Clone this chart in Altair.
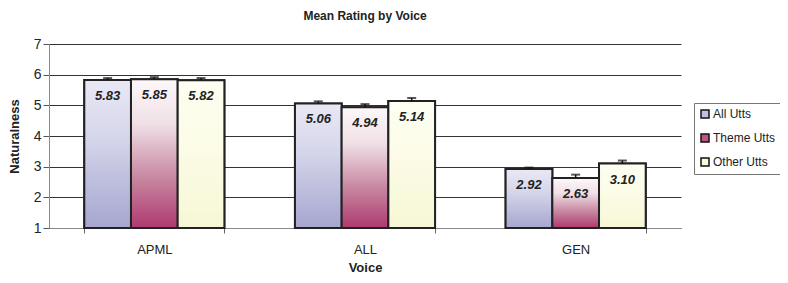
import altair as alt
import pandas as pd

voices = ["APML", "ALL", "GEN"]
series = ["All Utts", "Theme Utts", "Other Utts"]
means_all = [5.83, 5.06, 2.92]
means_theme = [5.85, 4.94, 2.63]
means_other = [5.82, 5.14, 3.10]
err_all = [0.06, 0.07, 0.05]
err_theme = [0.07, 0.10, 0.11]
err_other = [0.07, 0.10, 0.10]
y_ticks = [1, 2, 3, 4, 5, 6, 7]

rows = []
for s, ms, es in zip(series, [means_all, means_theme, means_other], [err_all, err_theme, err_other]):
    for v, m, e in zip(voices, ms, es):
        rows.append({"voice": v, "series": s, "mean": m, "upper": m + e})
df = pd.DataFrame(rows)

FONT = "Liberation Sans"
legend_colors = ["#c0c0e0", "#c05585", "#fafae0"]
gradients = {
    "All Utts": [("#e8e8f5", 0), ("#d8d8ec", 0.35), ("#a6a6d0", 1)],
    "Theme Utts": [("#fdf8fa", 0), ("#f0e0e6", 0.3), ("#c98aa3", 0.65), ("#ae3a6e", 1)],
    "Other Utts": [("#fefef2", 0), ("#fbfbe6", 0.5), ("#f7f7d6", 1)],
}

xscale = alt.Scale(paddingInner=0.335, paddingOuter=0.1675)
x_enc = alt.X("voice:N", sort=voices, scale=xscale,
              axis=alt.Axis(title="Voice", labelAngle=0, tickBand="extent",
                            labelFont=FONT, labelFontSize=13, labelColor="#222",
                            labelPadding=10, titleFont=FONT, titleFontSize=13,
                            titleFontWeight="bold", titleColor="#222", titlePadding=5,
                            domainColor="#888", tickColor="#666", tickSize=5))
xo_enc = alt.XOffset("series:N", sort=series, scale=alt.Scale(domain=series, paddingInner=0))
yscale = alt.Scale(domain=[1, 7], nice=False, zero=False)
y_axis = alt.Axis(title="Naturalness", values=y_ticks, tickCount=7, labelOverlap=False,
                  grid=True, gridColor="#333", gridWidth=1, domainColor="#888",
                  tickColor="#555", tickSize=6, labelFont=FONT, labelFontSize=14,
                  labelColor="#222", titleFont=FONT, titleFontSize=13,
                  titleFontWeight="bold", titleColor="#222", titlePadding=12)


def yenc(field):
    return alt.Y(field, scale=yscale, axis=y_axis)


base = alt.Chart(df).encode(x=x_enc, xOffset=xo_enc)

legend_layer = base.mark_bar(stroke="#222", strokeWidth=2).encode(
    y=yenc("mean:Q"),
    y2=alt.datum(1),
    fill=alt.Fill("series:N", sort=series,
                  scale=alt.Scale(domain=series, range=legend_colors),
                  legend=alt.Legend(title=None, orient="none", legendX=645, legendY=59,
                                    symbolType="square", symbolSize=64,
                                    symbolStrokeColor="#111", symbolStrokeWidth=1.5,
                                    labelFont=FONT, labelFontSize=12, labelColor="#222",
                                    rowPadding=10, padding=5, strokeColor="#777",
                                    fillColor="white", labelOffset=2)),
)

layers = [legend_layer]
for s in series:
    grad = alt.Gradient(gradient="linear",
                        stops=[alt.GradientStop(color=c, offset=o) for c, o in gradients[s]],
                        x1=0, x2=0, y1=0, y2=1)
    layers.append(
        base.transform_filter(alt.datum.series == s)
        .mark_bar(fill=grad, stroke="#222", strokeWidth=2)
        .encode(y=yenc("mean:Q"), y2=alt.datum(1))
    )

err = base.mark_rule(color="#111", strokeWidth=1.5).encode(
    y=yenc("mean:Q"), y2="upper:Q")
cap = base.mark_tick(color="#111", thickness=2, size=9).encode(y=yenc("upper:Q"))
labels = base.mark_text(font=FONT, fontSize=13, fontWeight="bold", fontStyle="italic",
                        color="#222", dy=16, baseline="middle").encode(
    y=yenc("mean:Q"), text=alt.Text("mean:Q", format=".2f"))

chart = alt.layer(*layers, err, cap, labels).properties(
    width=632, height=184,
    title=alt.TitleParams("Mean Rating by Voice", font=FONT, fontSize=12,
                          fontWeight="bold", color="#222", anchor="middle", offset=14),
    autosize=alt.AutoSizeParams(type="none"),
    padding={"left": 41, "top": 36, "right": 99, "bottom": 47},
).configure_view(stroke=None)

chart.save("out.html", embed_options={"renderer": "svg", "actions": False})
